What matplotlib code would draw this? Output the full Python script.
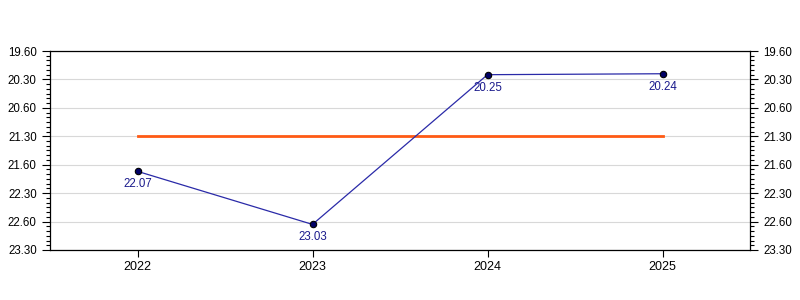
import math

import matplotlib
matplotlib.use('Agg')
import matplotlib.pyplot as plt
from matplotlib.ticker import MultipleLocator, FuncFormatter

# times are written as minutes.seconds
years = [2022, 2023, 2024, 2025]
times = ['22.07', '23.03', '20.25', '20.24']


def to_minutes(s):
    m, sec = s.split('.')
    return int(m) + int(sec) / 60.0


def fmt_time(v, pos=None):
    # same odd format as the original chart: 20.0 -> "19.60"
    m = math.ceil(round(v, 6)) - 1
    s = round((v - m) * 60)
    return '{}.{:02d}'.format(m, s)


values = [to_minutes(t) for t in times]
mean_value = sum(values) / len(values)

plt.rcParams['font.family'] = ['Liberation Sans', 'DejaVu Sans']

fig = plt.figure(figsize=(8, 3), dpi=100)
ax = fig.add_axes([0.0625, 0.1667, 0.875, 0.6633])

ax.plot(years, [mean_value] * len(years), color='#ff5a14', linewidth=2, zorder=2)
ax.plot(years, values, color='#2a2aa8', linewidth=0.9, marker='o', markersize=4.6,
        markerfacecolor='#000066', markeredgecolor='#000000', markeredgewidth=0.8, zorder=3)

for x, y, t in zip(years, values, times):
    ax.annotate(t, (x, y), xytext=(0, -5), textcoords='offset points',
                ha='center', va='top', fontsize=8.3, color='#1a1a8c')

ax.set_xlim(2021.5, 2025.5)
ax.set_ylim(23.5, 20.0)
ax.set_xticks(years)
ax.set_xticklabels([str(y) for y in years])
ax.yaxis.set_major_locator(MultipleLocator(0.5))
ax.yaxis.set_minor_locator(MultipleLocator(0.5 / 6))
ax.yaxis.set_major_formatter(FuncFormatter(fmt_time))

ax.tick_params(axis='y', which='both', left=True, right=True, labelleft=True, labelright=True,
               direction='out', labelsize=8.3, colors='black')
ax.tick_params(axis='y', which='major', length=6, width=0.8)
ax.tick_params(axis='y', which='minor', length=3, width=0.8)
ax.tick_params(axis='x', which='major', length=5, width=0.8, labelsize=9, pad=3)

ax.grid(axis='y', which='major', color='#d8d8d8', linewidth=0.8)
ax.set_axisbelow(True)
for sp in ax.spines.values():
    sp.set_linewidth(0.9)

fig.savefig('out.png', dpi=100)
